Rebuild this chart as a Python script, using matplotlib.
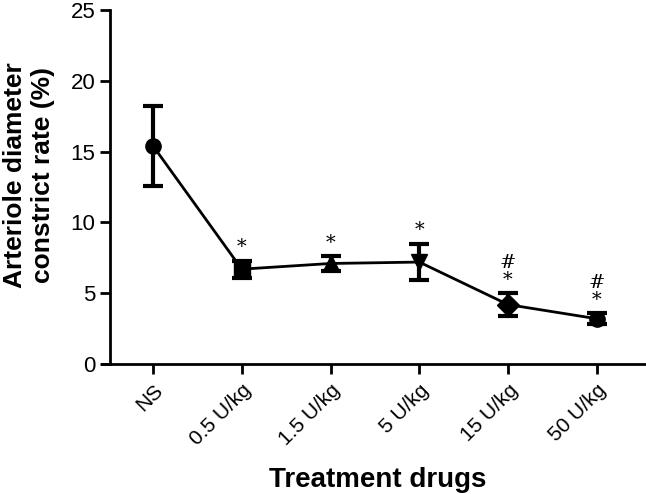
import matplotlib
matplotlib.use("Agg")
import matplotlib.pyplot as plt

plt.rcParams['font.family'] = ['Liberation Sans', 'DejaVu Sans']

# Data
groups = ['NS', '0.5 U/kg', '1.5 U/kg', '5 U/kg', '15 U/kg', '50 U/kg']
means = [15.4, 6.7, 7.1, 7.2, 4.2, 3.2]
errors = [2.8, 0.6, 0.5, 1.3, 0.8, 0.4]
markers = ['o', 's', '^', 'v', 'D', 'o']
marks = ['', '*', '*', '*', '#\n*', '#\n*']

fig = plt.figure(figsize=(6.46, 4.94), dpi=100)
ax = fig.add_axes([0.158, 0.263, 0.84, 0.717])

x = list(range(len(groups)))
ax.plot(x, means, color='black', linewidth=2, zorder=2)
ax.errorbar(x, means, yerr=errors, fmt='none', ecolor='black',
            elinewidth=3, capsize=7, capthick=3, zorder=3)
for xi, m, mk in zip(x, means, markers):
    ax.plot(xi, m, marker=mk, markersize=11, color='black', zorder=4)

for xi, m, e, s in zip(x, means, errors, marks):
    if s:
        ax.text(xi, m + e + 0.3, s, ha='center', va='bottom', fontsize=14,
                family='DejaVu Serif', linespacing=0.9)

ax.set_xlim(-0.574, 5.54)
ax.set_ylim(0, 25)
ax.set_yticks([0, 5, 10, 15, 20, 25])
ax.set_xticks(x)
ax.set_xticklabels(groups, rotation=45, ha='right', va='top',
                   rotation_mode='anchor')

for sp in ['top', 'right']:
    ax.spines[sp].set_visible(False)
ax.spines['left'].set_position(('axes', 8 / 543))
ax.spines['left'].set_linewidth(2)
ax.spines['bottom'].set_linewidth(2)
ax.tick_params(axis='both', width=2, length=7, labelsize=16)
ax.tick_params(axis='x', labelsize=15, pad=5)

fig.text(0.045, 0.646, 'Arteriole diameter\nconstrict rate (%)', fontsize=19,
         fontweight='bold', rotation=90, ha='center', va='center',
         linespacing=1.2)
fig.text(0.584, 0.028, 'Treatment drugs', fontsize=20, fontweight='bold',
         ha='center', va='center')

plt.savefig('out.png', dpi=100)
